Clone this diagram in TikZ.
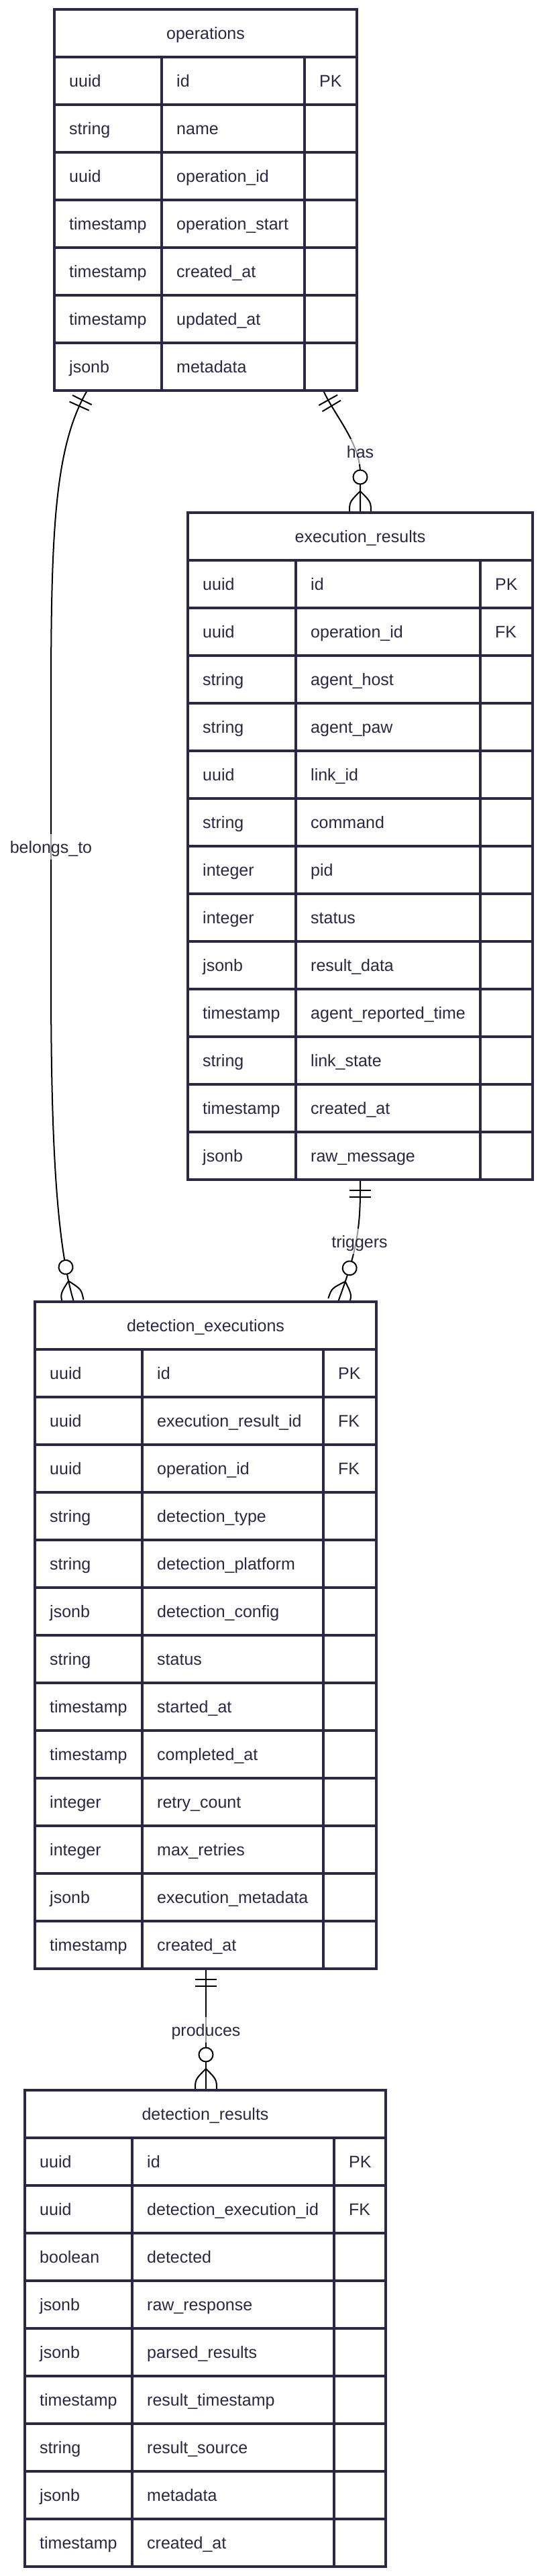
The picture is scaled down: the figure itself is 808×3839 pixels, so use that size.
\documentclass[tikz,border=0pt]{standalone}
\usepackage{fontspec}
\setmainfont{Liberation Sans}
\usetikzlibrary{decorations.markings,calc}
\definecolor{ink}{RGB}{42,40,66}
\pgfdeclarelayer{bg}
\pgfsetlayers{bg,main}

\newcommand{\ertable}[9]{%
  \pgfmathsetmacro{\erxA}{#2+#4}%
  \pgfmathsetmacro{\erxB}{#2+#4+#5}%
  \pgfmathsetmacro{\erxR}{#2+#4+#5+#6}%
  \pgfmathsetmacro{\eryH}{#3+71}%
  \pgfmathsetmacro{\eryB}{#3+71*(#8+1)}%
  \pgfmathsetmacro{\erW}{#4+#5+#6}%
  \pgfmathsetmacro{\erH}{71*(#8+1)}%
  \node[tablebox, minimum width=\erW pt, minimum height=\erH pt, anchor=north west] (#1) at (#2,#3) {};%
  \node[hdr] (#1-title) at ({#2+\erW/2},{#3+35.5}) {#7};%
  \foreach \ty/\nm/\ky [count=\i] in {#9} {%
    \pgfmathsetmacro{\eryT}{#3+71*\i}%
    \draw[rowline] (#2,\eryT) -- (\erxR,\eryT);%
    \node[cell] (#1-t\i) at ({#2+22},{\eryT+35.5}) {\ty};%
    \node[cell] (#1-n\i) at ({\erxA+22},{\eryT+35.5}) {\nm};%
    \node[cell] (#1-k\i) at ({\erxB+22},{\eryT+35.5}) {\ky};%
  }%
  \draw[rowline] (\erxA,\eryH) -- (\erxA,\eryB) (\erxB,\eryH) -- (\erxB,\eryB);%
  \draw[tableframe] (#2,#3) rectangle (\erxR,\eryB);%
}

\begin{document}
\begin{tikzpicture}[x=1pt,y=-1pt,
  erfont/.style={font=\fontsize{25}{30}\selectfont},
  cell/.style={anchor=west, inner sep=0pt, text height=18pt, text depth=0pt, text=ink, erfont},
  hdr/.style={anchor=center, inner sep=0pt, text height=18pt, text depth=0pt, text=ink, erfont},
  tablebox/.style={fill=white, inner sep=0pt, outer sep=0pt},
  rowline/.style={draw=ink, line width=3.5pt},
  tableframe/.style={draw=ink, line width=4pt},
  conn/.style={draw=black, line width=2pt},
  lbl/.style={fill=white, fill opacity=0.6, text opacity=1, text=ink, erfont, inner xsep=2pt, inner ysep=6pt, text height=22pt, text depth=4pt},
  startone/.style={postaction={decorate, decoration={markings,
    mark=at position 16pt with {\draw[line width=2pt, black] (0pt,-16pt) -- (0pt,16pt);},
    mark=at position 26pt with {\draw[line width=2pt, black] (0pt,-16pt) -- (0pt,16pt);}}}},
  endmany/.style={postaction={decorate, decoration={markings,
    mark=at position -53pt with {\draw[line width=2pt, black, fill=white] (0pt,0pt) circle (10.5pt);},
    mark=at position -32pt with {\draw[line width=2pt, black] (0pt,0pt) .. controls (16pt,16pt) .. (32pt,16pt) (0pt,0pt) .. controls (16pt,-16pt) .. (32pt,-16pt);}}}}
]
\useasboundingbox (0,0) rectangle (808,3839);

\ertable{ops}{81}{14}{160}{213}{78}{operations}{7}{%
  uuid/id/PK, string/name/{}, uuid/operation\_id/{}, timestamp/operation\_start/{},
  timestamp/created\_at/{}, timestamp/updated\_at/{}, jsonb/metadata/{}}

\ertable{exr}{280}{764}{161}{275}{78}{execution\_results}{13}{%
  uuid/id/PK, uuid/operation\_id/FK, string/agent\_host/{}, string/agent\_paw/{},
  uuid/link\_id/{}, string/command/{}, integer/pid/{}, integer/status/{},
  jsonb/result\_data/{}, timestamp/agent\_reported\_time/{}, string/link\_state/{},
  timestamp/created\_at/{}, jsonb/raw\_message/{}}

\ertable{dex}{52}{1940}{160}{270}{79}{detection\_executions}{13}{%
  uuid/id/PK, uuid/execution\_result\_id/FK, uuid/operation\_id/FK,
  string/detection\_type/{}, string/detection\_platform/{}, jsonb/detection\_config/{},
  string/status/{}, timestamp/started\_at/{}, timestamp/completed\_at/{},
  integer/retry\_count/{}, integer/max\_retries/{}, jsonb/execution\_metadata/{},
  timestamp/created\_at/{}}

\ertable{drs}{37}{3115}{160}{301}{77}{detection\_results}{9}{%
  uuid/id/PK, uuid/detection\_execution\_id/FK, boolean/detected/{},
  jsonb/raw\_response/{}, jsonb/parsed\_results/{}, timestamp/result\_timestamp/{},
  string/result\_source/{}, jsonb/metadata/{}, timestamp/created\_at/{}}

\begin{pgfonlayer}{bg}
  % operations -> execution_results
  \draw[conn,startone,endmany] ($(ops.south west)+(401,0)$) .. controls (498,618) and (537,660) .. (537,705) -- ($(exr.north west)+(257,0)$);
  % operations -> detection_executions
  \draw[conn,startone,endmany] ($(ops.south west)+(49,0)$) .. controls (80,668) and (76,800) .. (76,1050) -- (76,1450) .. controls (76,1650) and (80,1840) .. ($(dex.north west)+(58,0)$);
  % execution_results -> detection_executions
  \draw[conn,startone,endmany] ($(exr.south west)+(257,0)$) -- (537,1775) .. controls (537,1840) and (528,1875) .. ($(dex.north west)+(452,0)$);
  % detection_executions -> detection_results
  \draw[conn,startone,endmany] ($(dex.south west)+(255,0)$) -- ($(drs.north west)+(270,0)$);

  \node[lbl] (lbl-has) at (537,673) {has};
  \node[lbl] (lbl-belongs) at (76,1262) {belongs\_to};
  \node[lbl] (lbl-triggers) at (536,1850) {triggers};
  \node[lbl] (lbl-produces) at (307,3025) {produces};
\end{pgfonlayer}
\end{tikzpicture}
\end{document}
